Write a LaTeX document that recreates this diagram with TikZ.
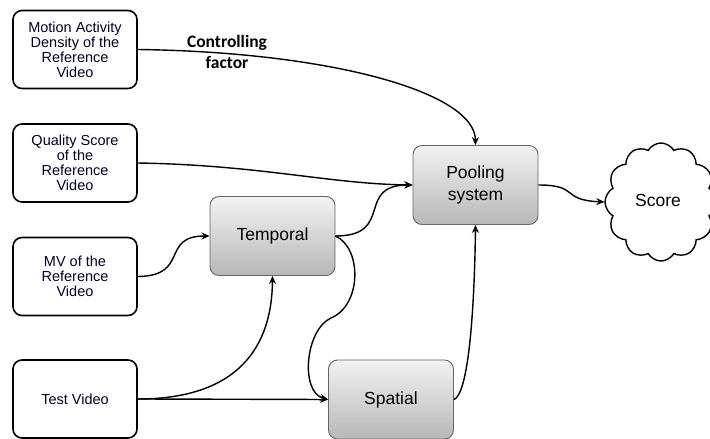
\documentclass[tikz,border=0pt]{standalone}
\usepackage{fontspec}
\setmainfont{Liberation Sans}
\newfontfamily\labelfont{Carlito}
\usetikzlibrary{arrows.meta,shapes.symbols}

\tikzset{
  inbox/.style={draw=black, line width=1.6pt, rounded corners=9pt, fill=white,
    minimum width=124pt, minimum height=78pt, align=center, inner sep=1pt,
    font=\fontsize{14.5}{15}\selectfont, text=black!85!blue},
  procbox/.style={draw=black!60, line width=0.9pt, rounded corners=9pt,
    top color=black!5, bottom color=black!28,
    minimum width=125pt, minimum height=79pt, align=center,
    font=\fontsize{17.5}{22}\selectfont},
  link/.style={line width=1.4pt, -{Stealth[length=8pt,width=7pt]}},
}

\begin{document}
\begin{tikzpicture}[x=1pt,y=-1pt]
  \useasboundingbox (0,0) rectangle (710,439);

  % inputs
  \node[inbox] (mad) at (75,49.5) {Motion Activity\\Density of the\\Reference\\Video};
  \node[inbox] (qs)  at (75,163)  {Quality Score\\of the\\Reference\\Video};
  \node[inbox] (mv)  at (75,276.5){MV of the\\Reference\\Video};
  \node[inbox] (tv)  at (75,399)  {Test Video};

  % processing blocks
  \node[procbox] (tmp)  at (272.5,236) {Temporal};
  \node[procbox] (pool) at (475.5,185) {Pooling\\system};
  \node[procbox] (spa)  at (391,399.5) {Spatial};

  % result
  \node[cloud, draw, line width=1.4pt, cloud puffs=12, cloud puff arc=120,
        minimum width=112pt, minimum height=118pt, aspect=0.95] (score) at (661,202) {};
  \node[font=\fontsize{17.5}{20}\selectfont] (scoretxt) at (658,200) {Score};

  % controlling factor label
  \node[font=\labelfont\bfseries\fontsize{17.5}{21}\selectfont, align=center]
    (cf) at (227,52) {Controlling\\factor};

  % connectors
  \draw[link] (mad.east) .. controls (330,52) and (475,92) .. (pool.north);
  \draw[link] (qs.east) .. controls (260,165) and (330,184) .. (pool.west);
  \draw[link] (mv.east) .. controls (190,276) and (160,236) .. (tmp.west);
  \draw[link] (tv.east) .. controls (240,399) and (272,345) .. (tmp.south);
  \draw[link] (tv.east) -- (spa.west);
  \draw[link] (tmp.east) .. controls (395,236) and (355,185) .. (pool.west);
  \draw[link] (tmp.east) .. controls (362,248) and (362,305) .. (331,318)
                         .. controls (305,330) and (300,392) .. (spa.west);
  \draw[link] (spa.east) .. controls (472,392) and (475,270) .. (pool.south);
  \draw[link] (pool.east) .. controls (580,185) and (560,200) .. (score.west);
\end{tikzpicture}
\end{document}
